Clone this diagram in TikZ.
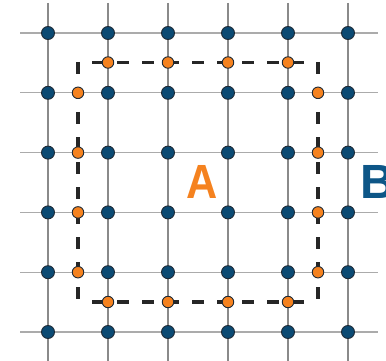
\documentclass[tikz,border=0pt]{standalone}
\usepackage{fontspec}
\setmainfont{Liberation Sans}
\definecolor{dotblue}{HTML}{0B4A73}
\definecolor{dotorange}{HTML}{F5821F}
\definecolor{txtblue}{HTML}{0D5687}
\definecolor{gridv}{HTML}{8A8A8A}
\definecolor{gridh}{HTML}{ABABAB}
\definecolor{rimc}{HTML}{1E2A36}
\tikzset{
  bluedot/.style={circle, fill=dotblue, draw=rimc, line width=0.9pt, minimum size=13pt, inner sep=0pt},
  orangedot/.style={circle, fill=dotorange, draw=rimc, line width=0.9pt, minimum size=11.5pt, inner sep=0pt},
  vline/.style={draw=gridv, line width=1.3pt},
  hline/.style={draw=gridh, line width=1.3pt},
  boundary/.style={draw=black!85, line width=3.2pt, dash pattern=on 12pt off 13pt},
  biglabel/.style={font=\bfseries\fontsize{48}{48}\selectfont, inner sep=0pt}
}
\begin{document}
\begin{tikzpicture}[x=1pt,y=-1pt]
\useasboundingbox (0,0) rectangle (386,361);
% grid lines
\foreach \i in {0,...,5}{
  \coordinate (vt\i) at ({48+60*\i},3);
  \coordinate (vb\i) at ({48+60*\i},361);
  \coordinate (hl\i) at (20,{33+59.8*\i});
  \coordinate (hr\i) at (378,{33+59.8*\i});
  \draw[hline] (hl\i) -- (hr\i);
}
\foreach \i in {0,...,5}{
  \draw[vline] (vt\i) -- (vb\i);
}
% dashed boundary
\coordinate (tl) at (92,62.5);
\coordinate (tr) at (306,62.5);
\coordinate (bl) at (92,302);
\coordinate (br) at (306,302);
\coordinate (lt) at (78,62);
\coordinate (lb) at (78,303);
\coordinate (rt) at (318,62);
\coordinate (rb) at (318,303);
\draw[boundary] (tl) -- (tr);
\draw[boundary] (bl) -- (br);
\draw[boundary] (lt) -- (lb);
\draw[boundary] (rt) -- (rb);
% blue lattice points
\foreach \i in {0,...,5}{
  \foreach \j in {0,...,5}{
    \node[bluedot] (b\i\j) at ({48+60*\i},{33+59.8*\j}) {};
  }
}
% orange boundary points
\foreach \k in {0,...,3}{
  \node[orangedot] (ot\k) at ({108+60*\k},62.5) {};
  \node[orangedot] (ob\k) at ({108+60*\k},302) {};
  \node[orangedot] (ol\k) at (78,{92.8+59.8*\k}) {};
  \node[orangedot] (or\k) at (318,{92.8+59.8*\k}) {};
}
% labels
\node[biglabel, text=dotorange] (labA) at (202,182) {\scalebox{0.9}[1]{A}};
\node[biglabel, text=txtblue, anchor=west] (labB) at (360,182) {B};
\end{tikzpicture}
\end{document}
